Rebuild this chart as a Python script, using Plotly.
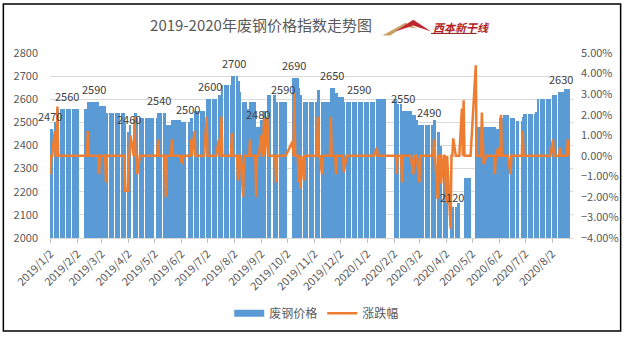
import pandas as pd
import plotly.graph_objects as go

title_text = "2019-2020年废钢价格指数走势图"
logo_text = "西本新干线"
price_name = "废钢价格"
pct_name = "涨跌幅"

first_day = "2019-01-02"
last_day = "2020-08-21"

# market holidays (no trading-day record)
holiday_starts = ["2019-02-04", "2019-04-05", "2019-05-01", "2019-06-07", "2019-09-13",
                  "2019-10-01", "2020-01-01", "2020-01-24", "2020-04-06", "2020-05-01",
                  "2020-06-25"]
holiday_ends = ["2019-02-08", "2019-04-05", "2019-05-03", "2019-06-07", "2019-09-13",
                "2019-10-07", "2020-01-01", "2020-01-31", "2020-04-06", "2020-05-05",
                "2020-06-26"]
# weekend make-up working days (records exist)
workdays_extra = ["2019-02-02", "2019-02-03", "2019-04-28", "2019-05-05", "2019-09-29",
                  "2019-10-12", "2020-01-19", "2020-04-26", "2020-05-09", "2020-06-28"]

# scrap-steel price index: value in force from each date on (None = no record)
price_dates = ["2019-01-02", "2019-01-07", "2019-01-10", "2019-02-14", "2019-02-27",
               "2019-03-07", "2019-03-29", "2019-04-01", "2019-04-04", "2019-04-09",
               "2019-04-12", "2019-05-06", "2019-05-15", "2019-05-22", "2019-06-03",
               "2019-06-13", "2019-06-17", "2019-07-01", "2019-07-15", "2019-07-18",
               "2019-07-30", "2019-08-06", "2019-08-08", "2019-08-12", "2019-08-16",
               "2019-08-20", "2019-08-27", "2019-09-02", "2019-09-05", "2019-09-09",
               "2019-09-19", "2019-10-08", "2019-10-15", "2019-10-17", "2019-10-21",
               "2019-11-06", "2019-11-08", "2019-11-11", "2019-11-21", "2019-11-26",
               "2019-11-29", "2019-12-06", "2020-01-13", "2020-02-05", "2020-02-11",
               "2020-02-24", "2020-02-27", "2020-03-02", "2020-03-19", "2020-03-23",
               "2020-03-26", "2020-03-30", "2020-04-07", "2020-04-10", "2020-04-15",
               "2020-04-20", "2020-04-24", "2020-05-06", "2020-05-29", "2020-06-03",
               "2020-06-08", "2020-06-15", "2020-06-22", "2020-06-29", "2020-07-01",
               "2020-07-14", "2020-07-17", "2020-08-03", "2020-08-10", "2020-08-17"]
price_values = [2470, 2500, 2560, 2590, 2570,
                2540, 2500, 2460, 2490, 2540,
                2520, 2540, 2490, 2510, 2500,
                2520, 2550, 2600, 2620, 2660,
                2700, 2680, 2630, 2590, 2560,
                2590, 2480, 2510, 2550, 2620,
                2590, 2690, 2650, 2620, 2590,
                2640, 2620, 2590, 2650, 2625,
                2610, 2590, 2600, 2580, 2550,
                2530, 2510, 2490, 2510, 2460,
                2400, 2350, 2120, 2135, 2150,
                None, 2260, 2480, 2470, 2520,
                2530, 2520, 2505, 2525, 2535,
                2545, 2600, 2620, 2630, 2645]

# daily change (%): trading days not listed are 0
pct_dates = ["2019-01-02", "2019-01-07", "2019-01-10", "2019-02-14", "2019-02-27",
             "2019-03-07", "2019-03-29", "2019-04-01", "2019-04-04", "2019-04-09",
             "2019-04-12", "2019-05-06", "2019-05-15", "2019-05-22", "2019-06-03",
             "2019-06-13", "2019-06-17", "2019-07-01", "2019-07-15", "2019-07-18",
             "2019-07-30", "2019-08-06", "2019-08-12", "2019-08-20", "2019-08-27",
             "2019-09-02", "2019-09-05", "2019-09-09", "2019-09-19", "2019-10-08",
             "2019-10-10", "2019-10-15", "2019-10-17", "2019-10-21", "2019-11-06",
             "2019-11-11", "2019-11-21", "2019-11-27", "2019-12-06", "2020-01-13",
             "2020-02-05", "2020-02-11", "2020-02-24", "2020-03-02", "2020-03-19",
             "2020-03-23", "2020-03-27", "2020-04-01", "2020-04-02", "2020-04-07",
             "2020-04-10", "2020-04-20", "2020-04-22", "2020-05-06", "2020-05-13",
             "2020-05-15", "2020-05-28", "2020-06-01", "2020-06-04", "2020-06-15",
             "2020-06-29", "2020-08-03", "2020-08-11", "2020-08-20"]
pct_values = [-0.9, 1.2, 2.4, 1.2, -0.9,
              -1.3, -1.7, -1.7, 1.0, 1.9,
              -0.9, 0.8, -2.0, 0.8, -0.4,
              0.8, 1.2, 1.9, 0.8, 1.9,
              1.1, -1.2, -2.0, 0.8, -2.0,
              1.0, 1.8, 1.9, -1.3, 0.7,
              3.05, -1.3, -1.6, -1.2, 1.9,
              -0.9, 1.9, -0.9, -0.8, 0.4,
              -0.9, -1.3, -0.9, -1.3, 0.8,
              -2.1, -1.35, -1.3, -2.3, -3.55,
              0.85, 2.3, 2.7, 4.4, 2.1,
              -0.4, -0.9, 0.4, 2.0, -0.9,
              1.2, 0.8, 0.4, 0.8]

# data labels shown on the chart
label_dates = ["2019-01-02", "2019-01-21", "2019-02-21", "2019-04-02", "2019-05-07",
               "2019-06-10", "2019-07-05", "2019-08-01", "2019-08-29", "2019-09-27",
               "2019-10-10", "2019-11-22", "2019-12-24", "2020-02-12", "2020-03-13",
               "2020-04-09", "2020-08-12"]
label_values = [2470, 2560, 2590, 2460, 2540,
                2500, 2600, 2700, 2480, 2590,
                2690, 2650, 2590, 2550, 2490,
                2120, 2630]

tick_dates = ["2019-01-02", "2019-02-02", "2019-03-02", "2019-04-02", "2019-05-02",
              "2019-06-02", "2019-07-02", "2019-08-02", "2019-09-02", "2019-10-02",
              "2019-11-02", "2019-12-02", "2020-01-02", "2020-02-02", "2020-03-02",
              "2020-04-02", "2020-05-02", "2020-06-02", "2020-07-02", "2020-08-02"]
tick_labels = ["2019/1/2", "2019/2/2", "2019/3/2", "2019/4/2", "2019/5/2",
               "2019/6/2", "2019/7/2", "2019/8/2", "2019/9/2", "2019/10/2",
               "2019/11/2", "2019/12/2", "2020/1/2", "2020/2/2", "2020/3/2",
               "2020/4/2", "2020/5/2", "2020/6/2", "2020/7/2", "2020/8/2"]

# ---------------------------------------------------------------- build series
days = pd.bdate_range(first_day, last_day)
off = pd.Series(False, index=days)
for s, e in zip(holiday_starts, holiday_ends):
    off[(days >= pd.Timestamp(s)) & (days <= pd.Timestamp(e))] = True
days = days[~off.values].union(pd.to_datetime(workdays_extra)).sort_values()

steps = pd.Series(price_values, index=pd.to_datetime(price_dates), dtype="float")
price = steps.reindex(days, method="ffill")

pct = pd.Series(0.0, index=days)
for d, v in zip(pct_dates, pct_values):
    pct[pd.Timestamp(d)] = v / 100.0

BLUE = "#5B9BD5"
ORANGE = "#ED7D31"
GREY = "#595959"
FONT = "Noto Sans CJK SC"

fig = go.Figure()
fig.add_trace(go.Bar(x=days, y=price, name=price_name, marker_color=BLUE,
                     marker_line_width=0, width=86400000, showlegend=False))
fig.add_trace(go.Scatter(x=[None], y=[None], mode="lines", name=price_name,
                         line=dict(color=BLUE, width=7)))
fig.add_trace(go.Scatter(x=days, y=pct, mode="lines", name=pct_name, yaxis="y2",
                         line=dict(color=ORANGE, width=2.5)))

for d, v in zip(label_dates, label_values):
    fig.add_annotation(x=d, y=v, text=str(v), showarrow=False, xanchor="center",
                       yanchor="bottom", yshift=3,
                       font=dict(size=11, color="#404040", family=FONT))

# ---------------------------------------------------------------- layout
W, H = 631, 340
L, R, T, B = 50, 54, 53, 98
PW, PH = W - L - R, H - T - B


def px(x):
    return (x - L) / PW


def py(y):
    return (H - B - y) / PH


shapes = [dict(type="rect", xref="paper", yref="paper", x0=px(3), x1=px(625),
               y0=py(337), y1=py(3), line=dict(color="black", width=1.5))]
# logo mountains
shapes.append(dict(type="path", xref="paper", yref="paper",
                   path=f"M {px(385)},{py(35)} L {px(408)},{py(22)} L {px(420)},{py(28)} "
                        f"L {px(406)},{py(26)} L {px(393)},{py(35)} Z",
                   fillcolor="#C8A064", line=dict(width=0)))
shapes.append(dict(type="path", xref="paper", yref="paper",
                   path=f"M {px(398)},{py(31)} L {px(416)},{py(19)} L {px(434)},{py(31)} "
                        f"L {px(416)},{py(25)} Z",
                   fillcolor="#C0262D", line=dict(width=0)))
shapes.append(dict(type="line", xref="paper", yref="paper", x0=px(434), x1=px(480),
                   y0=py(33), y1=py(33), line=dict(color="#8B1A1A", width=1)))

fig.add_annotation(xref="paper", yref="paper", x=px(434), y=py(26),
                   text=f"<b><i>{logo_text}</i></b>", showarrow=False,
                   xanchor="left", yanchor="middle",
                   font=dict(size=11, color="#B01E23", family=FONT))

fig.update_layout(
    width=W, height=H,
    margin=dict(l=L, r=R, t=T, b=B),
    paper_bgcolor="white", plot_bgcolor="white",
    font=dict(family=FONT, color=GREY, size=11),
    title=dict(text=title_text, x=261 / W, xref="container", xanchor="center",
               y=1 - 26 / H, yref="container", yanchor="middle",
               font=dict(size=15, color=GREY, family=FONT)),
    bargap=0,
    shapes=shapes,
    showlegend=True,
    legend=dict(orientation="h", x=0.51, xanchor="center", y=py(319), yanchor="middle",
                font=dict(size=12, color=GREY, family=FONT), itemwidth=30,
                bgcolor="rgba(0,0,0,0)"),
    xaxis=dict(type="date", range=["2019-01-01 12:00", "2020-08-26"],
               tickmode="array", tickvals=tick_dates, ticktext=tick_labels,
               tickangle=-45, ticks="outside", ticklen=4, tickcolor="#BFBFBF",
               showline=True, linecolor="#D9D9D9", showgrid=False,
               tickfont=dict(size=11, color=GREY)),
    yaxis=dict(range=[2000, 2800], dtick=100, showgrid=True, gridcolor="#D9D9D9",
               zeroline=False, ticks="", tickfont=dict(size=11, color=GREY),
               ticklabelstandoff=11),
    yaxis2=dict(range=[-0.04, 0.05], dtick=0.01, tickformat=".2%", overlaying="y",
                side="right", showgrid=False, zeroline=False, ticks="",
                tickfont=dict(size=11, color=GREY), ticklabelstandoff=7),
)

fig.write_html("out.html")
